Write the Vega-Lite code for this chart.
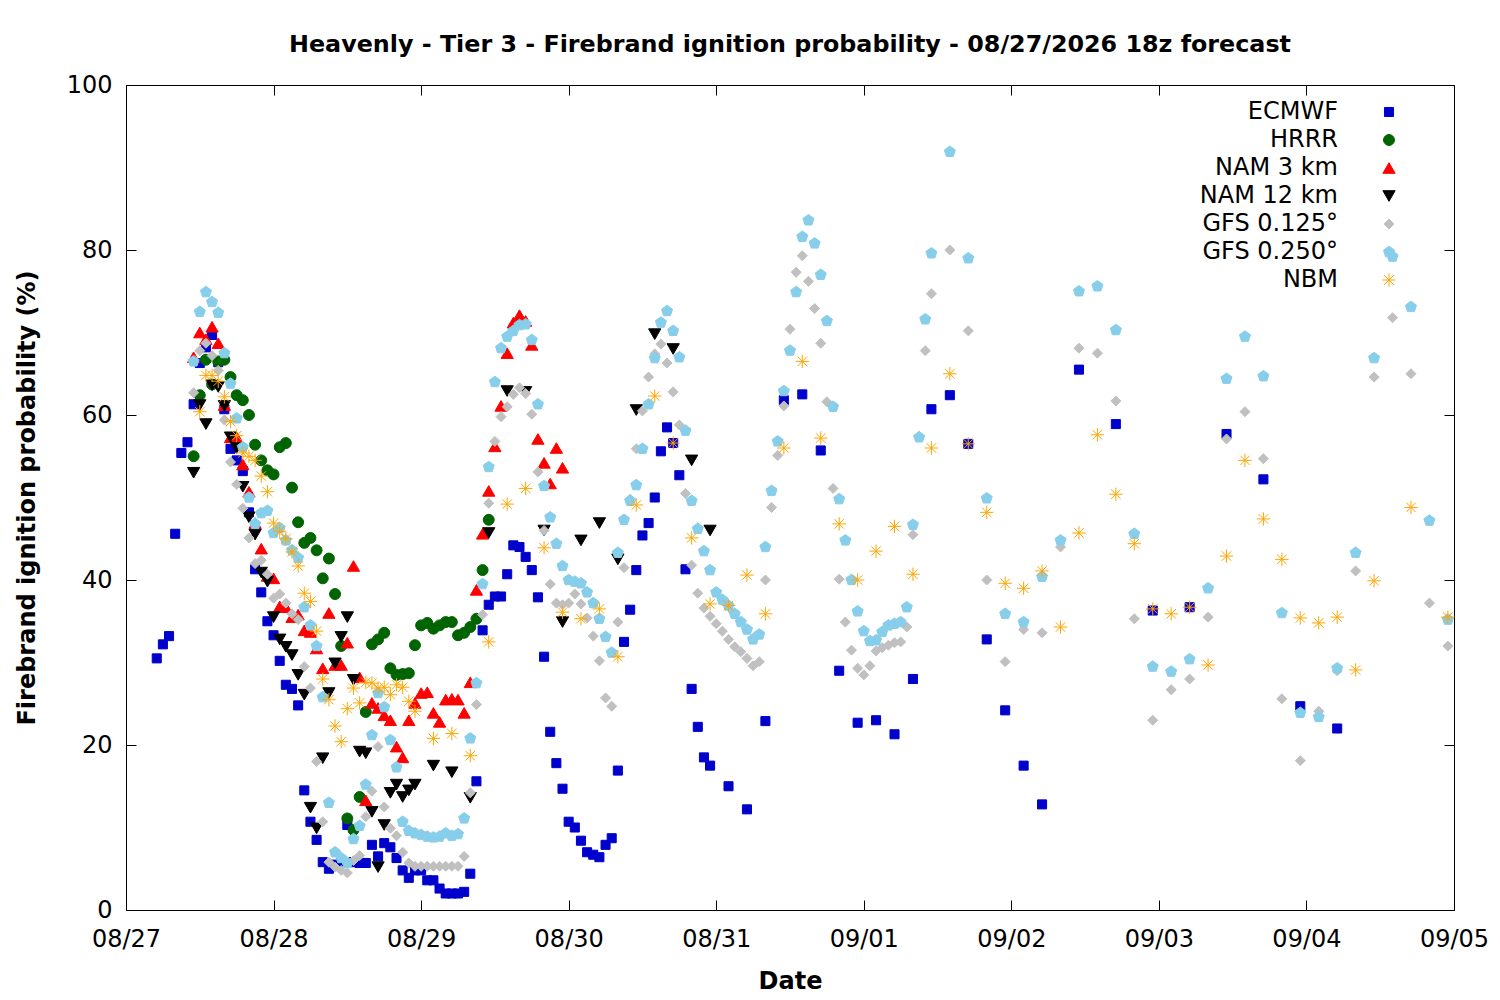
{
  "$schema": "https://vega.github.io/schema/vega-lite/v6.json",
  "width": 1328,
  "height": 825,
  "autosize": "none",
  "padding": {"left": 126, "top": 85, "right": 46, "bottom": 90},
  "background": "white",
  "title": {
    "text": "Heavenly - Tier 3 - Firebrand ignition probability - 08/27/2026 18z forecast",
    "font": "DejaVu Sans",
    "fontSize": 23.8,
    "fontWeight": "bold",
    "color": "black",
    "anchor": "middle",
    "offset": 16
  },
  "config": {
    "font": "DejaVu Sans",
    "view": {"stroke": "black", "strokeWidth": 1},
    "axis": {
      "labelFont": "DejaVu Sans",
      "labelFontSize": 24,
      "labelColor": "black",
      "titleFont": "DejaVu Sans",
      "titleFontSize": 24,
      "titleFontWeight": "bold",
      "titleColor": "black",
      "tickColor": "black",
      "domain": false,
      "grid": false,
      "labelFlush": false,
      "labelOverlap": false
    }
  },
  "data": {"values": [
    {"model":"ECMWF","h":5,"p":30.5},{"model":"ECMWF","h":6,"p":32.2},{"model":"ECMWF","h":7,"p":33.2},{"model":"ECMWF","h":8,"p":45.6},{"model":"ECMWF","h":9,"p":55.4},{"model":"ECMWF","h":10,"p":56.7},{"model":"ECMWF","h":11,"p":61.3},{"model":"ECMWF","h":12,"p":66.3},{"model":"ECMWF","h":13,"p":68.2},{"model":"ECMWF","h":14,"p":69.7},{"model":"ECMWF","h":15,"p":66.4},{"model":"ECMWF","h":16,"p":60.7},{"model":"ECMWF","h":17,"p":55.9},{"model":"ECMWF","h":18,"p":54.5},{"model":"ECMWF","h":19,"p":53.2},{"model":"ECMWF","h":20,"p":48.2},{"model":"ECMWF","h":21,"p":41.3},{"model":"ECMWF","h":22,"p":38.5},{"model":"ECMWF","h":23,"p":35},{"model":"ECMWF","h":24,"p":33.3},{"model":"ECMWF","h":25,"p":30.2},{"model":"ECMWF","h":26,"p":27.3},{"model":"ECMWF","h":27,"p":26.8},{"model":"ECMWF","h":28,"p":24.8},{"model":"ECMWF","h":29,"p":14.5},{"model":"ECMWF","h":30,"p":10.7},{"model":"ECMWF","h":31,"p":8.5},{"model":"ECMWF","h":32,"p":5.8},{"model":"ECMWF","h":33,"p":5},{"model":"ECMWF","h":34,"p":5.5},{"model":"ECMWF","h":35,"p":5.8},{"model":"ECMWF","h":36,"p":10.3},{"model":"ECMWF","h":37,"p":5.8},{"model":"ECMWF","h":38,"p":5.7},{"model":"ECMWF","h":39,"p":5.7},{"model":"ECMWF","h":40,"p":7.9},{"model":"ECMWF","h":41,"p":6.5},{"model":"ECMWF","h":42,"p":8.1},{"model":"ECMWF","h":43,"p":7.6},{"model":"ECMWF","h":44,"p":6.3},{"model":"ECMWF","h":45,"p":4.8},{"model":"ECMWF","h":46,"p":3.9},{"model":"ECMWF","h":47,"p":4.8},{"model":"ECMWF","h":48,"p":4.8},{"model":"ECMWF","h":49,"p":3.6},{"model":"ECMWF","h":50,"p":3.6},{"model":"ECMWF","h":51,"p":2.6},{"model":"ECMWF","h":52,"p":2},{"model":"ECMWF","h":53,"p":2},{"model":"ECMWF","h":54,"p":2},{"model":"ECMWF","h":55,"p":2.2},{"model":"ECMWF","h":56,"p":4.4},{"model":"ECMWF","h":57,"p":15.6},{"model":"ECMWF","h":58,"p":33.9},{"model":"ECMWF","h":59,"p":37},{"model":"ECMWF","h":60,"p":38},{"model":"ECMWF","h":61,"p":38},{"model":"ECMWF","h":62,"p":40.7},{"model":"ECMWF","h":63,"p":44.2},{"model":"ECMWF","h":64,"p":44},{"model":"ECMWF","h":65,"p":42.8},{"model":"ECMWF","h":66,"p":41.2},{"model":"ECMWF","h":67,"p":37.9},{"model":"ECMWF","h":68,"p":30.7},{"model":"ECMWF","h":69,"p":21.6},{"model":"ECMWF","h":70,"p":17.8},{"model":"ECMWF","h":71,"p":14.7},{"model":"ECMWF","h":72,"p":10.7},{"model":"ECMWF","h":73,"p":10},{"model":"ECMWF","h":74,"p":8.4},{"model":"ECMWF","h":75,"p":7},{"model":"ECMWF","h":76,"p":6.7},{"model":"ECMWF","h":77,"p":6.4},{"model":"ECMWF","h":78,"p":7.9},{"model":"ECMWF","h":79,"p":8.7},{"model":"ECMWF","h":80,"p":16.9},{"model":"ECMWF","h":81,"p":32.5},{"model":"ECMWF","h":82,"p":36.4},{"model":"ECMWF","h":83,"p":41.2},{"model":"ECMWF","h":84,"p":45.4},{"model":"ECMWF","h":85,"p":46.9},{"model":"ECMWF","h":86,"p":50},{"model":"ECMWF","h":87,"p":55.6},{"model":"ECMWF","h":88,"p":58.5},{"model":"ECMWF","h":89,"p":56.6},{"model":"ECMWF","h":90,"p":52.7},{"model":"ECMWF","h":91,"p":41.3},{"model":"ECMWF","h":92,"p":26.8},{"model":"ECMWF","h":93,"p":22.2},{"model":"ECMWF","h":94,"p":18.5},{"model":"ECMWF","h":95,"p":17.5},{"model":"ECMWF","h":98,"p":15},{"model":"ECMWF","h":101,"p":12.2},{"model":"ECMWF","h":104,"p":22.9},{"model":"ECMWF","h":107,"p":61.8},{"model":"ECMWF","h":110,"p":62.5},{"model":"ECMWF","h":113,"p":55.7},{"model":"ECMWF","h":116,"p":29},{"model":"ECMWF","h":119,"p":22.7},{"model":"ECMWF","h":122,"p":23},{"model":"ECMWF","h":125,"p":21.3},{"model":"ECMWF","h":128,"p":28},{"model":"ECMWF","h":131,"p":60.7},{"model":"ECMWF","h":134,"p":62.4},{"model":"ECMWF","h":137,"p":56.5},{"model":"ECMWF","h":140,"p":32.8},{"model":"ECMWF","h":143,"p":24.2},{"model":"ECMWF","h":146,"p":17.5},{"model":"ECMWF","h":149,"p":12.8},{"model":"ECMWF","h":155,"p":65.5},{"model":"ECMWF","h":161,"p":58.9},{"model":"ECMWF","h":167,"p":36.3},{"model":"ECMWF","h":173,"p":36.7},{"model":"ECMWF","h":179,"p":57.7},{"model":"ECMWF","h":185,"p":52.2},{"model":"ECMWF","h":191,"p":24.7},{"model":"ECMWF","h":197,"p":22},
    {"model":"HRRR","h":11,"p":55},{"model":"HRRR","h":12,"p":62.4},{"model":"HRRR","h":13,"p":66.7},{"model":"HRRR","h":14,"p":63.7},{"model":"HRRR","h":15,"p":66.5},{"model":"HRRR","h":16,"p":66.7},{"model":"HRRR","h":17,"p":64.6},{"model":"HRRR","h":18,"p":62.4},{"model":"HRRR","h":19,"p":61.8},{"model":"HRRR","h":20,"p":60},{"model":"HRRR","h":21,"p":56.4},{"model":"HRRR","h":22,"p":54.5},{"model":"HRRR","h":23,"p":53.3},{"model":"HRRR","h":24,"p":52.8},{"model":"HRRR","h":25,"p":56.1},{"model":"HRRR","h":26,"p":56.6},{"model":"HRRR","h":27,"p":51.2},{"model":"HRRR","h":28,"p":47},{"model":"HRRR","h":29,"p":44.5},{"model":"HRRR","h":30,"p":45.1},{"model":"HRRR","h":31,"p":43.6},{"model":"HRRR","h":32,"p":40.2},{"model":"HRRR","h":33,"p":42.6},{"model":"HRRR","h":34,"p":38.3},{"model":"HRRR","h":35,"p":32},{"model":"HRRR","h":36,"p":11.1},{"model":"HRRR","h":37,"p":9.7},{"model":"HRRR","h":38,"p":13.7},{"model":"HRRR","h":39,"p":24},{"model":"HRRR","h":40,"p":32.2},{"model":"HRRR","h":41,"p":32.8},{"model":"HRRR","h":42,"p":33.6},{"model":"HRRR","h":43,"p":29.3},{"model":"HRRR","h":44,"p":28.5},{"model":"HRRR","h":45,"p":28.6},{"model":"HRRR","h":46,"p":28.7},{"model":"HRRR","h":47,"p":32.1},{"model":"HRRR","h":48,"p":34.5},{"model":"HRRR","h":49,"p":34.8},{"model":"HRRR","h":50,"p":34.1},{"model":"HRRR","h":51,"p":34.5},{"model":"HRRR","h":52,"p":34.9},{"model":"HRRR","h":53,"p":34.9},{"model":"HRRR","h":54,"p":33.3},{"model":"HRRR","h":55,"p":33.6},{"model":"HRRR","h":56,"p":34.3},{"model":"HRRR","h":57,"p":35.3},{"model":"HRRR","h":58,"p":41.2},{"model":"HRRR","h":59,"p":47.3},
    {"model":"NAM 3 km","h":11,"p":67},{"model":"NAM 3 km","h":12,"p":70},{"model":"NAM 3 km","h":13,"p":69.2},{"model":"NAM 3 km","h":14,"p":70.7},{"model":"NAM 3 km","h":15,"p":68.7},{"model":"NAM 3 km","h":16,"p":61.2},{"model":"NAM 3 km","h":17,"p":57.3},{"model":"NAM 3 km","h":18,"p":57.3},{"model":"NAM 3 km","h":19,"p":54},{"model":"NAM 3 km","h":20,"p":50.7},{"model":"NAM 3 km","h":21,"p":46.9},{"model":"NAM 3 km","h":22,"p":43.8},{"model":"NAM 3 km","h":23,"p":40.5},{"model":"NAM 3 km","h":24,"p":40.2},{"model":"NAM 3 km","h":25,"p":36.8},{"model":"NAM 3 km","h":26,"p":36.7},{"model":"NAM 3 km","h":27,"p":35.5},{"model":"NAM 3 km","h":28,"p":35.8},{"model":"NAM 3 km","h":29,"p":33.9},{"model":"NAM 3 km","h":30,"p":33.7},{"model":"NAM 3 km","h":31,"p":31.7},{"model":"NAM 3 km","h":32,"p":29.3},{"model":"NAM 3 km","h":33,"p":36},{"model":"NAM 3 km","h":34,"p":29.7},{"model":"NAM 3 km","h":35,"p":29.7},{"model":"NAM 3 km","h":36,"p":32.4},{"model":"NAM 3 km","h":37,"p":41.7},{"model":"NAM 3 km","h":38,"p":28.2},{"model":"NAM 3 km","h":39,"p":13.3},{"model":"NAM 3 km","h":40,"p":25.1},{"model":"NAM 3 km","h":41,"p":24.5},{"model":"NAM 3 km","h":42,"p":23.6},{"model":"NAM 3 km","h":43,"p":23},{"model":"NAM 3 km","h":44,"p":19.8},{"model":"NAM 3 km","h":45,"p":18.5},{"model":"NAM 3 km","h":46,"p":23},{"model":"NAM 3 km","h":47,"p":25.1},{"model":"NAM 3 km","h":48,"p":26.3},{"model":"NAM 3 km","h":49,"p":26.4},{"model":"NAM 3 km","h":50,"p":23.9},{"model":"NAM 3 km","h":51,"p":22.8},{"model":"NAM 3 km","h":52,"p":25.5},{"model":"NAM 3 km","h":53,"p":25.6},{"model":"NAM 3 km","h":54,"p":25.5},{"model":"NAM 3 km","h":55,"p":23.9},{"model":"NAM 3 km","h":56,"p":27.6},{"model":"NAM 3 km","h":57,"p":38.8},{"model":"NAM 3 km","h":58,"p":45.6},{"model":"NAM 3 km","h":59,"p":50.8},{"model":"NAM 3 km","h":60,"p":56.2},{"model":"NAM 3 km","h":61,"p":61.1},{"model":"NAM 3 km","h":62,"p":67.5},{"model":"NAM 3 km","h":63,"p":71.2},{"model":"NAM 3 km","h":64,"p":72.1},{"model":"NAM 3 km","h":65,"p":71.4},{"model":"NAM 3 km","h":66,"p":68.5},{"model":"NAM 3 km","h":67,"p":57.1},{"model":"NAM 3 km","h":68,"p":54.2},{"model":"NAM 3 km","h":69,"p":51.7},{"model":"NAM 3 km","h":70,"p":56},{"model":"NAM 3 km","h":71,"p":53.6},
    {"model":"NAM 12 km","h":11,"p":53},{"model":"NAM 12 km","h":12,"p":61.2},{"model":"NAM 12 km","h":13,"p":58.9},{"model":"NAM 12 km","h":14,"p":63.6},{"model":"NAM 12 km","h":15,"p":63.4},{"model":"NAM 12 km","h":16,"p":61.1},{"model":"NAM 12 km","h":17,"p":57.3},{"model":"NAM 12 km","h":18,"p":56},{"model":"NAM 12 km","h":19,"p":51.3},{"model":"NAM 12 km","h":20,"p":47.6},{"model":"NAM 12 km","h":21,"p":45.5},{"model":"NAM 12 km","h":22,"p":40.9},{"model":"NAM 12 km","h":23,"p":39.8},{"model":"NAM 12 km","h":24,"p":35.5},{"model":"NAM 12 km","h":25,"p":32.8},{"model":"NAM 12 km","h":26,"p":31.9},{"model":"NAM 12 km","h":27,"p":30.9},{"model":"NAM 12 km","h":28,"p":28.5},{"model":"NAM 12 km","h":29,"p":26.1},{"model":"NAM 12 km","h":30,"p":12.4},{"model":"NAM 12 km","h":31,"p":9.9},{"model":"NAM 12 km","h":32,"p":18.4},{"model":"NAM 12 km","h":33,"p":26.3},{"model":"NAM 12 km","h":34,"p":29.9},{"model":"NAM 12 km","h":35,"p":33.1},{"model":"NAM 12 km","h":36,"p":35.5},{"model":"NAM 12 km","h":37,"p":27.9},{"model":"NAM 12 km","h":38,"p":19.2},{"model":"NAM 12 km","h":39,"p":19},{"model":"NAM 12 km","h":40,"p":11.9},{"model":"NAM 12 km","h":41,"p":5.2},{"model":"NAM 12 km","h":42,"p":10.3},{"model":"NAM 12 km","h":43,"p":14.2},{"model":"NAM 12 km","h":44,"p":15.2},{"model":"NAM 12 km","h":45,"p":13.7},{"model":"NAM 12 km","h":46,"p":14.5},{"model":"NAM 12 km","h":47,"p":15.2},{"model":"NAM 12 km","h":50,"p":17.5},{"model":"NAM 12 km","h":53,"p":16.7},{"model":"NAM 12 km","h":56,"p":13.6},{"model":"NAM 12 km","h":59,"p":45.7},{"model":"NAM 12 km","h":62,"p":62.9},{"model":"NAM 12 km","h":65,"p":62.8},{"model":"NAM 12 km","h":68,"p":46},{"model":"NAM 12 km","h":71,"p":34.9},{"model":"NAM 12 km","h":74,"p":44.8},{"model":"NAM 12 km","h":77,"p":46.9},{"model":"NAM 12 km","h":80,"p":42.5},{"model":"NAM 12 km","h":83,"p":60.6},{"model":"NAM 12 km","h":86,"p":69.8},{"model":"NAM 12 km","h":89,"p":68},{"model":"NAM 12 km","h":92,"p":54.5},{"model":"NAM 12 km","h":95,"p":46},
    {"model":"GFS 0.125°","h":11,"p":62.7},{"model":"GFS 0.125°","h":12,"p":67.8},{"model":"GFS 0.125°","h":13,"p":68.7},{"model":"GFS 0.125°","h":14,"p":67.2},{"model":"GFS 0.125°","h":15,"p":65.4},{"model":"GFS 0.125°","h":16,"p":59.4},{"model":"GFS 0.125°","h":17,"p":54.3},{"model":"GFS 0.125°","h":18,"p":51.6},{"model":"GFS 0.125°","h":19,"p":48.7},{"model":"GFS 0.125°","h":20,"p":45.1},{"model":"GFS 0.125°","h":21,"p":42},{"model":"GFS 0.125°","h":22,"p":42.4},{"model":"GFS 0.125°","h":23,"p":40.7},{"model":"GFS 0.125°","h":24,"p":37.8},{"model":"GFS 0.125°","h":25,"p":38.3},{"model":"GFS 0.125°","h":26,"p":37.2},{"model":"GFS 0.125°","h":27,"p":35.9},{"model":"GFS 0.125°","h":28,"p":35.2},{"model":"GFS 0.125°","h":29,"p":29.5},{"model":"GFS 0.125°","h":30,"p":26.9},{"model":"GFS 0.125°","h":31,"p":18},{"model":"GFS 0.125°","h":32,"p":10.7},{"model":"GFS 0.125°","h":33,"p":5.8},{"model":"GFS 0.125°","h":34,"p":5.2},{"model":"GFS 0.125°","h":35,"p":4.8},{"model":"GFS 0.125°","h":36,"p":4.5},{"model":"GFS 0.125°","h":37,"p":6},{"model":"GFS 0.125°","h":38,"p":6.6},{"model":"GFS 0.125°","h":39,"p":11.3},{"model":"GFS 0.125°","h":40,"p":14.4},{"model":"GFS 0.125°","h":41,"p":19.8},{"model":"GFS 0.125°","h":42,"p":12.5},{"model":"GFS 0.125°","h":43,"p":9.9},{"model":"GFS 0.125°","h":44,"p":9},{"model":"GFS 0.125°","h":45,"p":7},{"model":"GFS 0.125°","h":46,"p":5.7},{"model":"GFS 0.125°","h":47,"p":5.3},{"model":"GFS 0.125°","h":48,"p":5.3},{"model":"GFS 0.125°","h":49,"p":5.3},{"model":"GFS 0.125°","h":50,"p":5.3},{"model":"GFS 0.125°","h":51,"p":5.3},{"model":"GFS 0.125°","h":52,"p":5.3},{"model":"GFS 0.125°","h":53,"p":5.3},{"model":"GFS 0.125°","h":54,"p":5.3},{"model":"GFS 0.125°","h":55,"p":6.5},{"model":"GFS 0.125°","h":56,"p":14.2},{"model":"GFS 0.125°","h":57,"p":24.9},{"model":"GFS 0.125°","h":58,"p":35.8},{"model":"GFS 0.125°","h":59,"p":49.3},{"model":"GFS 0.125°","h":60,"p":56.8},{"model":"GFS 0.125°","h":61,"p":59.8},{"model":"GFS 0.125°","h":62,"p":61},{"model":"GFS 0.125°","h":63,"p":62.5},{"model":"GFS 0.125°","h":64,"p":63.3},{"model":"GFS 0.125°","h":65,"p":62.6},{"model":"GFS 0.125°","h":66,"p":60.1},{"model":"GFS 0.125°","h":67,"p":53.1},{"model":"GFS 0.125°","h":68,"p":46},{"model":"GFS 0.125°","h":69,"p":39.5},{"model":"GFS 0.125°","h":70,"p":37.2},{"model":"GFS 0.125°","h":71,"p":37},{"model":"GFS 0.125°","h":72,"p":37.2},{"model":"GFS 0.125°","h":73,"p":38.3},{"model":"GFS 0.125°","h":74,"p":37.1},{"model":"GFS 0.125°","h":75,"p":35.4},{"model":"GFS 0.125°","h":76,"p":33.2},{"model":"GFS 0.125°","h":77,"p":30.2},{"model":"GFS 0.125°","h":78,"p":25.7},{"model":"GFS 0.125°","h":79,"p":24.7},{"model":"GFS 0.125°","h":80,"p":34.9},{"model":"GFS 0.125°","h":81,"p":41.5},{"model":"GFS 0.125°","h":82,"p":49.8},{"model":"GFS 0.125°","h":83,"p":55.9},{"model":"GFS 0.125°","h":84,"p":60.5},{"model":"GFS 0.125°","h":85,"p":64.6},{"model":"GFS 0.125°","h":86,"p":67.4},{"model":"GFS 0.125°","h":87,"p":68.6},{"model":"GFS 0.125°","h":88,"p":66.3},{"model":"GFS 0.125°","h":89,"p":62.8},{"model":"GFS 0.125°","h":90,"p":58.8},{"model":"GFS 0.125°","h":91,"p":50.5},{"model":"GFS 0.125°","h":92,"p":41.8},{"model":"GFS 0.125°","h":93,"p":38.4},{"model":"GFS 0.125°","h":94,"p":36.6},{"model":"GFS 0.125°","h":95,"p":35.6},{"model":"GFS 0.125°","h":96,"p":34.7},{"model":"GFS 0.125°","h":97,"p":33.8},{"model":"GFS 0.125°","h":98,"p":32.8},{"model":"GFS 0.125°","h":99,"p":31.9},{"model":"GFS 0.125°","h":100,"p":31.3},{"model":"GFS 0.125°","h":101,"p":30.5},{"model":"GFS 0.125°","h":102,"p":29.6},{"model":"GFS 0.125°","h":103,"p":30.1},{"model":"GFS 0.125°","h":104,"p":40},{"model":"GFS 0.125°","h":105,"p":48.8},{"model":"GFS 0.125°","h":106,"p":55.1},{"model":"GFS 0.125°","h":107,"p":61.1},{"model":"GFS 0.125°","h":108,"p":70.4},{"model":"GFS 0.125°","h":109,"p":77.3},{"model":"GFS 0.125°","h":110,"p":79.3},{"model":"GFS 0.125°","h":111,"p":76.2},{"model":"GFS 0.125°","h":112,"p":72.9},{"model":"GFS 0.125°","h":113,"p":68.7},{"model":"GFS 0.125°","h":114,"p":61.6},{"model":"GFS 0.125°","h":115,"p":51.1},{"model":"GFS 0.125°","h":116,"p":40.1},{"model":"GFS 0.125°","h":117,"p":34.9},{"model":"GFS 0.125°","h":118,"p":31.5},{"model":"GFS 0.125°","h":119,"p":29.3},{"model":"GFS 0.125°","h":120,"p":28.5},{"model":"GFS 0.125°","h":121,"p":29.6},{"model":"GFS 0.125°","h":122,"p":31.4},{"model":"GFS 0.125°","h":123,"p":31.8},{"model":"GFS 0.125°","h":124,"p":32.1},{"model":"GFS 0.125°","h":125,"p":32.4},{"model":"GFS 0.125°","h":126,"p":32.5},{"model":"GFS 0.125°","h":127,"p":34.3},{"model":"GFS 0.125°","h":128,"p":45.5},{"model":"GFS 0.125°","h":129,"p":57.4},{"model":"GFS 0.125°","h":130,"p":67.8},{"model":"GFS 0.125°","h":131,"p":74.7},{"model":"GFS 0.125°","h":134,"p":80},{"model":"GFS 0.125°","h":137,"p":70.2},{"model":"GFS 0.125°","h":140,"p":40},{"model":"GFS 0.125°","h":143,"p":30.1},{"model":"GFS 0.125°","h":146,"p":34},{"model":"GFS 0.125°","h":149,"p":33.6},{"model":"GFS 0.125°","h":152,"p":44},{"model":"GFS 0.125°","h":155,"p":68.1},{"model":"GFS 0.125°","h":158,"p":67.5},{"model":"GFS 0.125°","h":161,"p":61.7},{"model":"GFS 0.125°","h":164,"p":35.3},{"model":"GFS 0.125°","h":167,"p":23},{"model":"GFS 0.125°","h":170,"p":26.7},{"model":"GFS 0.125°","h":173,"p":28},{"model":"GFS 0.125°","h":176,"p":35.5},{"model":"GFS 0.125°","h":179,"p":57.1},{"model":"GFS 0.125°","h":182,"p":60.4},{"model":"GFS 0.125°","h":185,"p":54.7},{"model":"GFS 0.125°","h":188,"p":25.6},{"model":"GFS 0.125°","h":191,"p":18.1},{"model":"GFS 0.125°","h":194,"p":24.1},{"model":"GFS 0.125°","h":197,"p":29},{"model":"GFS 0.125°","h":200,"p":41.1},{"model":"GFS 0.125°","h":203,"p":64.6},{"model":"GFS 0.125°","h":206,"p":71.8},{"model":"GFS 0.125°","h":209,"p":65},{"model":"GFS 0.125°","h":212,"p":37.2},{"model":"GFS 0.125°","h":215,"p":32},
    {"model":"GFS 0.250°","h":11,"p":66.5},{"model":"GFS 0.250°","h":12,"p":72.5},{"model":"GFS 0.250°","h":13,"p":74.9},{"model":"GFS 0.250°","h":14,"p":73.7},{"model":"GFS 0.250°","h":15,"p":72.4},{"model":"GFS 0.250°","h":16,"p":67.5},{"model":"GFS 0.250°","h":17,"p":63.8},{"model":"GFS 0.250°","h":18,"p":59.6},{"model":"GFS 0.250°","h":19,"p":56.1},{"model":"GFS 0.250°","h":20,"p":50},{"model":"GFS 0.250°","h":21,"p":46.8},{"model":"GFS 0.250°","h":22,"p":48.1},{"model":"GFS 0.250°","h":23,"p":48.4},{"model":"GFS 0.250°","h":24,"p":45.7},{"model":"GFS 0.250°","h":25,"p":46.3},{"model":"GFS 0.250°","h":26,"p":44.8},{"model":"GFS 0.250°","h":27,"p":43.6},{"model":"GFS 0.250°","h":28,"p":42.7},{"model":"GFS 0.250°","h":29,"p":36.7},{"model":"GFS 0.250°","h":30,"p":34.5},{"model":"GFS 0.250°","h":31,"p":32},{"model":"GFS 0.250°","h":32,"p":25.8},{"model":"GFS 0.250°","h":33,"p":13},{"model":"GFS 0.250°","h":34,"p":7},{"model":"GFS 0.250°","h":35,"p":6.3},{"model":"GFS 0.250°","h":36,"p":5.7},{"model":"GFS 0.250°","h":37,"p":8.6},{"model":"GFS 0.250°","h":38,"p":10.2},{"model":"GFS 0.250°","h":39,"p":15.2},{"model":"GFS 0.250°","h":40,"p":21.2},{"model":"GFS 0.250°","h":41,"p":26.3},{"model":"GFS 0.250°","h":42,"p":24.6},{"model":"GFS 0.250°","h":43,"p":20.6},{"model":"GFS 0.250°","h":44,"p":17.3},{"model":"GFS 0.250°","h":45,"p":10.7},{"model":"GFS 0.250°","h":46,"p":9.6},{"model":"GFS 0.250°","h":47,"p":9.3},{"model":"GFS 0.250°","h":48,"p":9.1},{"model":"GFS 0.250°","h":49,"p":8.9},{"model":"GFS 0.250°","h":50,"p":8.8},{"model":"GFS 0.250°","h":51,"p":8.9},{"model":"GFS 0.250°","h":52,"p":9.3},{"model":"GFS 0.250°","h":53,"p":9},{"model":"GFS 0.250°","h":54,"p":9.2},{"model":"GFS 0.250°","h":55,"p":11.1},{"model":"GFS 0.250°","h":56,"p":20.8},{"model":"GFS 0.250°","h":57,"p":27.5},{"model":"GFS 0.250°","h":58,"p":39.5},{"model":"GFS 0.250°","h":59,"p":53.7},{"model":"GFS 0.250°","h":60,"p":64},{"model":"GFS 0.250°","h":61,"p":68.1},{"model":"GFS 0.250°","h":62,"p":69.5},{"model":"GFS 0.250°","h":63,"p":70.2},{"model":"GFS 0.250°","h":64,"p":70.9},{"model":"GFS 0.250°","h":65,"p":71},{"model":"GFS 0.250°","h":66,"p":69.1},{"model":"GFS 0.250°","h":67,"p":61.3},{"model":"GFS 0.250°","h":68,"p":51.4},{"model":"GFS 0.250°","h":69,"p":47.6},{"model":"GFS 0.250°","h":70,"p":44.4},{"model":"GFS 0.250°","h":71,"p":41.7},{"model":"GFS 0.250°","h":72,"p":40},{"model":"GFS 0.250°","h":73,"p":39.8},{"model":"GFS 0.250°","h":74,"p":39.6},{"model":"GFS 0.250°","h":75,"p":38.5},{"model":"GFS 0.250°","h":76,"p":37.2},{"model":"GFS 0.250°","h":77,"p":35.3},{"model":"GFS 0.250°","h":78,"p":33.1},{"model":"GFS 0.250°","h":79,"p":31.2},{"model":"GFS 0.250°","h":80,"p":43.3},{"model":"GFS 0.250°","h":81,"p":47.3},{"model":"GFS 0.250°","h":82,"p":49.6},{"model":"GFS 0.250°","h":83,"p":51.5},{"model":"GFS 0.250°","h":84,"p":55.9},{"model":"GFS 0.250°","h":85,"p":61.3},{"model":"GFS 0.250°","h":86,"p":66.9},{"model":"GFS 0.250°","h":87,"p":71.2},{"model":"GFS 0.250°","h":88,"p":72.6},{"model":"GFS 0.250°","h":89,"p":70.2},{"model":"GFS 0.250°","h":90,"p":67},{"model":"GFS 0.250°","h":91,"p":58.1},{"model":"GFS 0.250°","h":92,"p":49.6},{"model":"GFS 0.250°","h":93,"p":46.2},{"model":"GFS 0.250°","h":94,"p":43.5},{"model":"GFS 0.250°","h":95,"p":41.2},{"model":"GFS 0.250°","h":96,"p":38.5},{"model":"GFS 0.250°","h":97,"p":37.6},{"model":"GFS 0.250°","h":98,"p":36.9},{"model":"GFS 0.250°","h":99,"p":35.9},{"model":"GFS 0.250°","h":100,"p":34.9},{"model":"GFS 0.250°","h":101,"p":34},{"model":"GFS 0.250°","h":102,"p":32.8},{"model":"GFS 0.250°","h":103,"p":33.4},{"model":"GFS 0.250°","h":104,"p":44},{"model":"GFS 0.250°","h":105,"p":50.8},{"model":"GFS 0.250°","h":106,"p":56.8},{"model":"GFS 0.250°","h":107,"p":62.9},{"model":"GFS 0.250°","h":108,"p":67.8},{"model":"GFS 0.250°","h":109,"p":74.9},{"model":"GFS 0.250°","h":110,"p":81.6},{"model":"GFS 0.250°","h":111,"p":83.6},{"model":"GFS 0.250°","h":112,"p":80.8},{"model":"GFS 0.250°","h":113,"p":77},{"model":"GFS 0.250°","h":114,"p":71.4},{"model":"GFS 0.250°","h":115,"p":61},{"model":"GFS 0.250°","h":116,"p":49.8},{"model":"GFS 0.250°","h":117,"p":44.8},{"model":"GFS 0.250°","h":118,"p":40},{"model":"GFS 0.250°","h":119,"p":36.2},{"model":"GFS 0.250°","h":120,"p":33.8},{"model":"GFS 0.250°","h":121,"p":32.6},{"model":"GFS 0.250°","h":122,"p":32.7},{"model":"GFS 0.250°","h":123,"p":33.7},{"model":"GFS 0.250°","h":124,"p":34.5},{"model":"GFS 0.250°","h":125,"p":34.7},{"model":"GFS 0.250°","h":126,"p":34.9},{"model":"GFS 0.250°","h":127,"p":36.7},{"model":"GFS 0.250°","h":128,"p":46.7},{"model":"GFS 0.250°","h":129,"p":57.3},{"model":"GFS 0.250°","h":130,"p":71.6},{"model":"GFS 0.250°","h":131,"p":79.6},{"model":"GFS 0.250°","h":134,"p":91.9},{"model":"GFS 0.250°","h":137,"p":79},{"model":"GFS 0.250°","h":140,"p":49.9},{"model":"GFS 0.250°","h":143,"p":35.9},{"model":"GFS 0.250°","h":146,"p":34.9},{"model":"GFS 0.250°","h":149,"p":40.4},{"model":"GFS 0.250°","h":152,"p":44.8},{"model":"GFS 0.250°","h":155,"p":75},{"model":"GFS 0.250°","h":158,"p":75.6},{"model":"GFS 0.250°","h":161,"p":70.3},{"model":"GFS 0.250°","h":164,"p":45.6},{"model":"GFS 0.250°","h":167,"p":29.5},{"model":"GFS 0.250°","h":170,"p":28.9},{"model":"GFS 0.250°","h":173,"p":30.4},{"model":"GFS 0.250°","h":176,"p":39},{"model":"GFS 0.250°","h":179,"p":64.4},{"model":"GFS 0.250°","h":182,"p":69.5},{"model":"GFS 0.250°","h":185,"p":64.7},{"model":"GFS 0.250°","h":188,"p":36},{"model":"GFS 0.250°","h":191,"p":23.9},{"model":"GFS 0.250°","h":194,"p":23.4},{"model":"GFS 0.250°","h":197,"p":29.3},{"model":"GFS 0.250°","h":200,"p":43.3},{"model":"GFS 0.250°","h":203,"p":66.9},{"model":"GFS 0.250°","h":206,"p":79.2},{"model":"GFS 0.250°","h":209,"p":73.1},{"model":"GFS 0.250°","h":212,"p":47.2},{"model":"GFS 0.250°","h":215,"p":35.2},
    {"model":"NBM","h":12,"p":60.4},{"model":"NBM","h":13,"p":64.8},{"model":"NBM","h":14,"p":64.8},{"model":"NBM","h":15,"p":64.1},{"model":"NBM","h":16,"p":62.2},{"model":"NBM","h":17,"p":59.2},{"model":"NBM","h":18,"p":57.5},{"model":"NBM","h":19,"p":55.4},{"model":"NBM","h":20,"p":55},{"model":"NBM","h":21,"p":54.5},{"model":"NBM","h":22,"p":52.6},{"model":"NBM","h":23,"p":50.7},{"model":"NBM","h":24,"p":46.9},{"model":"NBM","h":25,"p":45.9},{"model":"NBM","h":26,"p":45},{"model":"NBM","h":27,"p":43.4},{"model":"NBM","h":28,"p":41.7},{"model":"NBM","h":29,"p":38.4},{"model":"NBM","h":30,"p":37.4},{"model":"NBM","h":31,"p":33.8},{"model":"NBM","h":32,"p":28},{"model":"NBM","h":33,"p":25.5},{"model":"NBM","h":34,"p":22.3},{"model":"NBM","h":35,"p":20.4},{"model":"NBM","h":36,"p":24.4},{"model":"NBM","h":37,"p":26.9},{"model":"NBM","h":38,"p":25.1},{"model":"NBM","h":39,"p":27.6},{"model":"NBM","h":40,"p":27.5},{"model":"NBM","h":41,"p":26.9},{"model":"NBM","h":42,"p":27},{"model":"NBM","h":43,"p":26.1},{"model":"NBM","h":44,"p":27.3},{"model":"NBM","h":45,"p":27},{"model":"NBM","h":46,"p":25.3},{"model":"NBM","h":47,"p":24.1},{"model":"NBM","h":50,"p":20.8},{"model":"NBM","h":53,"p":21.4},{"model":"NBM","h":56,"p":18.7},{"model":"NBM","h":59,"p":32.5},{"model":"NBM","h":62,"p":49.2},{"model":"NBM","h":65,"p":51.1},{"model":"NBM","h":68,"p":43.9},{"model":"NBM","h":71,"p":36.1},{"model":"NBM","h":74,"p":35.3},{"model":"NBM","h":77,"p":36.5},{"model":"NBM","h":80,"p":30.7},{"model":"NBM","h":83,"p":49.1},{"model":"NBM","h":86,"p":62.3},{"model":"NBM","h":89,"p":56.6},{"model":"NBM","h":92,"p":45.1},{"model":"NBM","h":95,"p":37.1},{"model":"NBM","h":98,"p":36.9},{"model":"NBM","h":101,"p":40.6},{"model":"NBM","h":104,"p":35.9},{"model":"NBM","h":107,"p":56},{"model":"NBM","h":110,"p":66.5},{"model":"NBM","h":113,"p":57.2},{"model":"NBM","h":116,"p":46.8},{"model":"NBM","h":119,"p":40},{"model":"NBM","h":122,"p":43.5},{"model":"NBM","h":125,"p":46.5},{"model":"NBM","h":128,"p":40.7},{"model":"NBM","h":131,"p":56},{"model":"NBM","h":134,"p":65},{"model":"NBM","h":137,"p":56.5},{"model":"NBM","h":140,"p":48.2},{"model":"NBM","h":143,"p":39.6},{"model":"NBM","h":146,"p":39},{"model":"NBM","h":149,"p":41.1},{"model":"NBM","h":152,"p":34.3},{"model":"NBM","h":155,"p":45.7},{"model":"NBM","h":158,"p":57.6},{"model":"NBM","h":161,"p":50.4},{"model":"NBM","h":164,"p":44.4},{"model":"NBM","h":167,"p":36.5},{"model":"NBM","h":170,"p":35.9},{"model":"NBM","h":173,"p":36.7},{"model":"NBM","h":176,"p":29.7},{"model":"NBM","h":179,"p":42.9},{"model":"NBM","h":182,"p":54.5},{"model":"NBM","h":185,"p":47.4},{"model":"NBM","h":188,"p":42.5},{"model":"NBM","h":191,"p":35.4},{"model":"NBM","h":194,"p":34.8},{"model":"NBM","h":197,"p":35.5},{"model":"NBM","h":200,"p":29.1},{"model":"NBM","h":203,"p":39.9},{"model":"NBM","h":209,"p":48.8},{"model":"NBM","h":215,"p":35.5}
  ]},
  "layer": [
    {
      "mark": {"type": "point", "filled": true, "strokeWidth": 1, "opacity": 1},
      "encoding": {
        "x": {
          "field": "h", "type": "quantitative",
          "scale": {"domain": [0, 216], "nice": false, "zero": false},
          "axis": {
            "orient": "bottom",
            "values": [0, 24, 48, 72, 96, 120, 144, 168, 192, 216],
            "labelExpr": "['08/27','08/28','08/29','08/30','08/31','09/01','09/02','09/03','09/04','09/05'][round(datum.value/24)]",
            "title": "Date",
            "tickSize": -10,
            "labelPadding": 27,
            "titlePadding": 18
          }
        },
        "y": {
          "field": "p", "type": "quantitative",
          "scale": {"domain": [0, 100], "nice": false},
          "axis": {
            "orient": "left",
            "values": [0, 20, 40, 60, 80, 100],
            "title": "Firebrand ignition probability (%)",
            "tickSize": -10,
            "labelPadding": 24,
            "titlePadding": 27
          }
        },
        "shape": {
          "field": "model", "type": "nominal",
          "scale": {
            "domain": ["ECMWF", "HRRR", "NAM 3 km", "NAM 12 km", "GFS 0.125°", "GFS 0.250°", "NBM"],
            "range": ["square", "circle", "triangle-up", "triangle-down", "diamond", "M0,-1L0.951,-0.309L0.588,0.809L-0.588,0.809L-0.951,-0.309Z", "M-1,0L1,0M0,-1L0,1M-0.707,-0.707L0.707,0.707M-0.707,0.707L0.707,-0.707"]
          },
          "legend": {
            "title": null,
            "orient": "none",
            "legendX": 1251,
            "legendY": 15,
            "padding": 0,
            "labelAlign": "right",
            "labelOffset": -63,
            "labelFont": "DejaVu Sans",
            "labelFontSize": 24,
            "labelColor": "black",
            "labelLimit": 400,
            "symbolStrokeWidth": 1,
            "rowPadding": 4
          }
        },
        "fill": {
          "field": "model", "type": "nominal",
          "scale": {
            "domain": ["ECMWF", "HRRR", "NAM 3 km", "NAM 12 km", "GFS 0.125°", "GFS 0.250°", "NBM"],
            "range": ["#0000cc", "#006400", "#ff0000", "#000000", "#c0c0c0", "#87ceeb", "#ffa500"]
          }
        },
        "stroke": {
          "field": "model", "type": "nominal",
          "scale": {
            "domain": ["ECMWF", "HRRR", "NAM 3 km", "NAM 12 km", "GFS 0.125°", "GFS 0.250°", "NBM"],
            "range": ["#0000cc", "#006400", "#ff0000", "#000000", "#c0c0c0", "#87ceeb", "#ffa500"]
          }
        },
        "size": {
          "field": "model", "type": "nominal",
          "scale": {
            "type": "ordinal",
            "domain": ["ECMWF", "HRRR", "NAM 3 km", "NAM 12 km", "GFS 0.125°", "GFS 0.250°", "NBM"],
            "range": [82, 120, 150, 150, 100, 135, 180]
          }
        }
      }
    },
    {
      "mark": {"type": "point", "opacity": 0},
      "encoding": {
        "x": {
          "field": "h", "type": "quantitative",
          "scale": {"domain": [0, 216], "nice": false, "zero": false},
          "axis": {"orient": "top", "values": [0, 24, 48, 72, 96, 120, 144, 168, 192, 216], "labels": false, "title": null, "tickSize": -10}
        },
        "y": {
          "field": "p", "type": "quantitative",
          "scale": {"domain": [0, 100], "nice": false},
          "axis": {"orient": "right", "values": [0, 20, 40, 60, 80, 100], "labels": false, "title": null, "tickSize": -10}
        }
      }
    }
  ],
  "resolve": {"axis": {"x": "independent", "y": "independent"}}
}
